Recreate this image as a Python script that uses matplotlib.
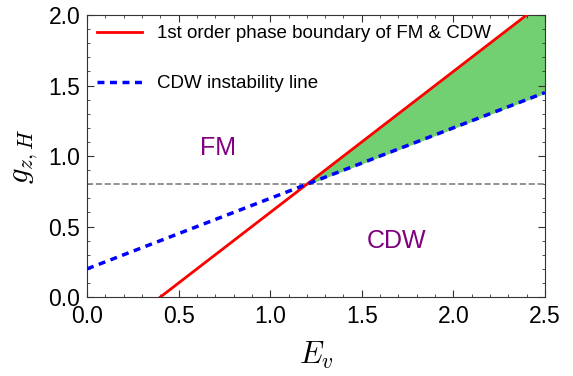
import numpy as np
import matplotlib
matplotlib.use('Agg')
import matplotlib.pyplot as plt
from matplotlib.ticker import MultipleLocator

plt.rcParams['font.family'] = ['Liberation Sans', 'DejaVu Sans']
plt.rcParams['mathtext.fontset'] = 'cm'

# Lineas de frontera (puntos extremos)
ev_red = [0.4, 2.4]
g_red = [0.0, 2.0]
ev_blue = [0.0, 2.5]
g_blue = [0.2, 1.45]
g_h_line = 0.8
ev_cross = 1.2

fig, ax = plt.subplots(figsize=(5.73, 3.76), dpi=100)

# Zona sombreada entre ambas lineas
slope_red = (g_red[1] - g_red[0]) / (ev_red[1] - ev_red[0])
ev_fill = np.array([ev_cross, 2.5])
red_fill = g_red[0] + slope_red * (ev_fill - ev_red[0])
blue_fill = np.interp(ev_fill, ev_blue, g_blue)
ax.fill_between(ev_fill, blue_fill, red_fill, color='#72d072', zorder=1)

ax.axhline(g_h_line, color='grey', ls='--', lw=1.2, zorder=2)
ax.plot(ev_red, g_red, color='red', lw=2, label='1st order phase boundary of FM & CDW', zorder=3)
ax.plot(ev_blue, g_blue, color='blue', lw=2.5, ls=(0, (2, 1.6)), label='CDW instability line', zorder=3)

ax.text(0.715, 1.06, 'FM', color='purple', fontsize=18, ha='center', va='center')
ax.text(1.69, 0.40, 'CDW', color='purple', fontsize=18, ha='center', va='center')

ax.set_xlim(0, 2.5)
ax.set_ylim(0, 2.0)
ax.xaxis.set_major_locator(MultipleLocator(0.5))
ax.xaxis.set_minor_locator(MultipleLocator(0.1))
ax.yaxis.set_major_locator(MultipleLocator(0.5))
ax.yaxis.set_minor_locator(MultipleLocator(0.1))
ax.tick_params(which='both', direction='in', top=True, right=True, labelsize=16.5, color='#333333')
ax.tick_params(which='major', length=5)
ax.tick_params(which='minor', length=2.5)
ax.tick_params(axis='x', pad=6)
ax.tick_params(axis='y', pad=5)
for sp in ax.spines.values():
    sp.set_color('#333333')

ax.set_xlabel('$E_v$', fontsize=22, labelpad=8)
ax.set_ylabel('$g_{z,H}$', fontsize=22, labelpad=6)
ax.legend(loc='upper left', frameon=False, fontsize=13.5, handlelength=2.4,
          handletextpad=0.8, borderaxespad=0.1, borderpad=0.45, labelspacing=1.75)

fig.subplots_adjust(left=0.152, right=0.951, top=0.96, bottom=0.21)
fig.savefig('out.png', dpi=100)
